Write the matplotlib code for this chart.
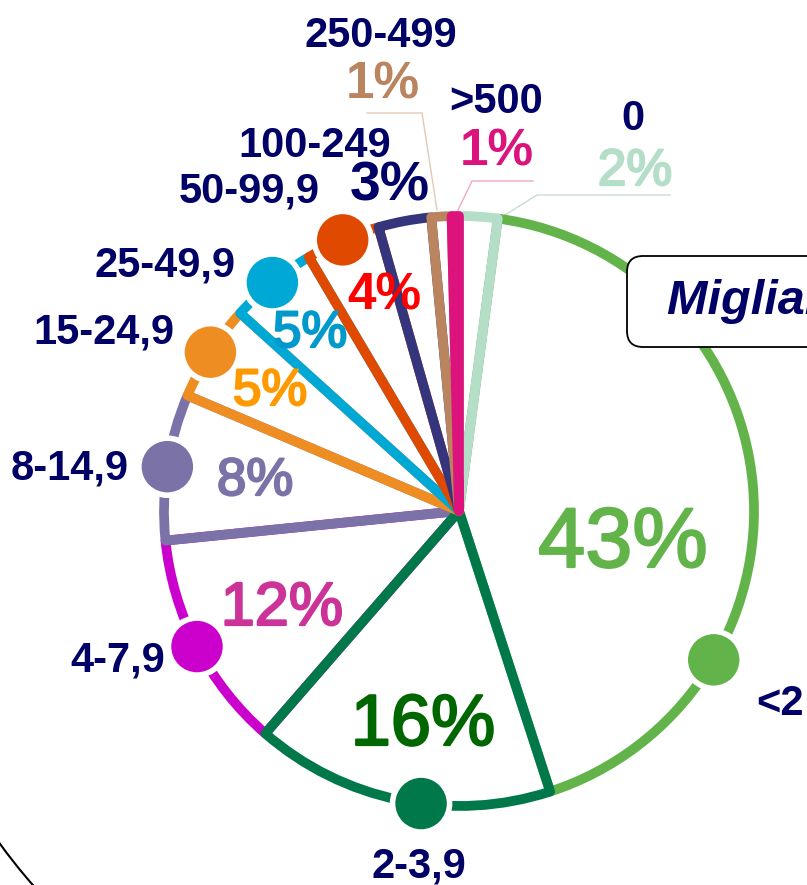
import matplotlib
matplotlib.use("Agg")
import numpy as np
import matplotlib.pyplot as plt
import matplotlib.patheffects as pe
from matplotlib.patches import Circle, FancyBboxPatch, Arc

# ---- data (share of the circle) ----
categories = ["0", "<2", "2-3,9", "4-7,9", "8-14,9", "15-24,9",
              "25-49,9", "50-99,9", "100-249", "250-499", ">500"]
shares = [2.1, 42.9, 16.4, 12.0, 8.0, 5.3, 4.8, 4.1, 2.9, 1.1, 0.4]
pct_labels = ["2%", "43%", "16%", "12%", "8%", "5%", "5%", "4%", "3%", "1%", "1%"]

# ---- style ----
W, H = 807, 885
CX, CY, R = 459, 511, 295
NAVY = "#000066"

wedge_colors = ["#b5dec8", "#63b34b", "#00784a", "#cc00cc", "#7b72a8", "#ee8e22",
                "#00a8d6", "#e04a00", "#35357d", "#b9845e", "#dc137c"]
pct_colors = ["#b5dec8", "#63b34b", "#006600", "#cc3399", "#7b72a8", "#ff9900",
              "#0099cc", "#ff0000", "#000066", "#b9845e", "#dc137c"]
wedge_z = [2, 1, 3, 1.5, 2, 3, 4, 5, 6, 7, 8]

# where the dot sits inside its wedge (fraction of the angle), None = no dot
dot_frac = [None, 0.73, 0.43, 0.5, 0.5, 0.5, 0.5, 0.5, None, None, None]

# label anchors in pixel coords (center x, baseline y)
cat_pos = [(633, 130), (756, 715), (419, 878), (118, 671), (70, 480), (104, 343),
           (165, 276), (249, 202), (315, 157), (381, 47), (496, 113)]
pct_pos = [(635, 185), (623, 567), (423, 745), (282, 625), (255, 495), (270, 405),
           (310, 347), (384, 310), (390, 200), (383, 98), (497, 165)]
pct_size = [37, 61, 52, 44, 38, 37, 37, 37, 40, 37, 37]
pct_bold = [False, False, False, False, False, False, False, True, True, True, True]

leaders = [
    ([505, 537, 670], [215, 195, 195], "#c8ddd3"),
    ([437, 422, 367], [210, 113, 113], "#e3c9b5"),
    ([458, 472, 533], [210, 181, 181], "#f0a8c8"),
]


def px(x, y):
    return (x - CX) / R, (CY - y) / R


plt.rcParams['font.family'] = ['Liberation Sans', 'DejaVu Sans']

fig = plt.figure(figsize=(W / 100, H / 100), dpi=100)
ax = fig.add_axes([0, 0, 1, 1])

wedges, _ = ax.pie(shares, startangle=90, counterclock=False, radius=1,
                   wedgeprops=dict(linewidth=7, joinstyle='round'))
for w, c, z in zip(wedges, wedge_colors, wedge_z):
    w.set_facecolor('none')
    w.set_edgecolor(c)
    w.set_zorder(z)

# dots on the rim
cum = np.concatenate([[0], np.cumsum(shares)]) / sum(shares) * 360
for i, f in enumerate(dot_frac):
    if f is None:
        continue
    theta = cum[i] + f * (cum[i + 1] - cum[i])
    a = np.radians(90 - theta)
    ax.add_patch(Circle((np.cos(a), np.sin(a)), 28.5 / R, facecolor=wedge_colors[i],
                        edgecolor='white', linewidth=4, zorder=10))

# leader lines for the thin slices
for xs, ys, c in leaders:
    pts = [px(x, y) for x, y in zip(xs, ys)]
    ax.plot([p[0] for p in pts], [p[1] for p in pts], color=c, lw=1, zorder=0.5)

# labels
for i, name in enumerate(categories):
    x, y = px(*cat_pos[i])
    ax.text(x, y, name, ha='left' if name == "<2" else 'center', va='baseline',
            fontsize=30, fontweight='bold', color=NAVY, zorder=12)
    x, y = px(*pct_pos[i])
    t = ax.text(x, y, pct_labels[i], ha='center', va='baseline', fontsize=pct_size[i],
                fontweight='bold' if pct_bold[i] else 'normal', color=pct_colors[i], zorder=12)
    if not pct_bold[i]:
        # medium weight look
        t.set_path_effects([pe.withStroke(linewidth=1.6, foreground=pct_colors[i])])

# unit box on the right (cut by the frame)
bx0, by0 = px(627, 347)
bx1, by1 = px(1100, 256)
ax.add_patch(FancyBboxPatch((bx0, by0), bx1 - bx0, by1 - by0,
                            boxstyle="round,pad=0,rounding_size=%f" % (16 / R),
                            facecolor='white', edgecolor='black', linewidth=1.3, zorder=11))
tx, ty = px(667, 314)
ax.text(tx, ty, "Migliaia di euro", ha='left', va='baseline', fontsize=35,
        fontweight='bold', fontstyle='italic', color=NAVY, zorder=12)

# outline of the background shape, bottom-left corner
ax.add_patch(Arc((0, 0), 2 * 567 / R, 2 * 567 / R, theta1=205, theta2=235,
                 color='black', lw=1.5, zorder=0.2))

ax.set_xlim(px(0, 0)[0], px(W, 0)[0])
ax.set_ylim(px(0, H)[1], px(0, 0)[1])
ax.set_aspect('equal')
ax.axis('off')

fig.savefig("out.png", dpi=100)
